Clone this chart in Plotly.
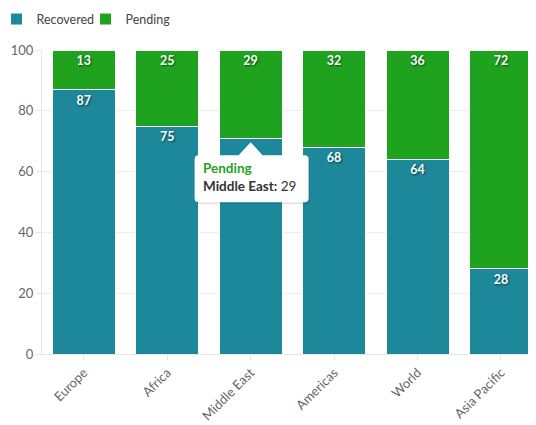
import plotly.graph_objects as go

regions = ["Europe", "Africa", "Middle East", "Americas", "World", "Asia Pacific"]
recovered = [87, 75, 71, 68, 64, 28]
pending = [13, 25, 29, 32, 36, 72]
y_ticks = [0, 20, 40, 60, 80, 100]

teal = "#1c889a"
green = "#1fa31f"
font_family = "Lato, 'Noto Sans', sans-serif"

# the page body adds an 8px margin; compensate so the plot sits where the reference does
W, H, BODY = 536, 425, 8

tip_idx = 2  # point shown with the tooltip (its own label is covered by the tooltip)
rec_text = [("" if i == tip_idx else str(v)) for i, v in enumerate(recovered)]

tfont = dict(color="white", size=12.5, family=font_family, weight="bold",
             shadow="1px 1px 2px rgba(0,0,0,0.55)")

fig = go.Figure()
fig.add_trace(go.Bar(
    x=regions, y=recovered, name="Recovered",
    marker=dict(color=teal, line=dict(color="white", width=1)),
    text=rec_text, textposition="inside", insidetextanchor="end",
    textfont=tfont, textangle=0,
))
fig.add_trace(go.Bar(
    x=regions, y=pending, name="Pending",
    marker=dict(color=green, line=dict(color="white", width=1)),
    text=pending, textposition="inside", insidetextanchor="end",
    textfont=tfont, textangle=0,
))

# Tooltip (static) for Middle East / Pending
tip_y = recovered[tip_idx]
tip_path = ("M -56,-17 L -12,-17 L 0,-4 L 12,-17 L 54,-17 "
            "Q 58,-17 58,-21 L 58,-60 Q 58,-64 54,-64 L -52,-64 "
            "Q -56,-64 -56,-60 L -56,-21 Q -56,-17 -52,-17 Z")
shadow_path = ("M -55,-19 L 55,-19 "
               "Q 59,-19 59,-23 L 59,-62 Q 59,-66 55,-66 L -51,-66 "
               "Q -55,-66 -55,-62 L -55,-23 Q -55,-19 -51,-19 Z")
shapes = [
    dict(type="path", xref="x", yref="y", xsizemode="pixel", ysizemode="pixel",
         xanchor=tip_idx, yanchor=tip_y, path=shadow_path,
         fillcolor="rgba(0,0,0,0.10)", line=dict(width=0), layer="above"),
    dict(type="path", xref="x", yref="y", xsizemode="pixel", ysizemode="pixel",
         xanchor=tip_idx, yanchor=tip_y, path=tip_path,
         fillcolor="white", line=dict(width=0), layer="above"),
]

fig.add_annotation(
    x=regions[tip_idx], y=tip_y, xref="x", yref="y",
    text=(f"<b><span style='color:{green}'>{fig.data[1].name}</span></b><br>"
          f"<b>{regions[tip_idx]}:</b> {pending[tip_idx]}"),
    showarrow=False, xanchor="left", yanchor="top", align="left",
    xshift=-50, yshift=-20,
    font=dict(size=13.5, color="#333", family=font_family),
)

ml, mt = 42 - BODY, 50 - BODY
plot_h = 304
fig.update_layout(
    width=W - BODY, height=H - BODY,
    margin=dict(l=ml, r=0, t=mt, b=(H - BODY) - mt - plot_h, autoexpand=False),
    barmode="stack", bargap=0.245,
    plot_bgcolor="white", paper_bgcolor="white",
    font=dict(family=font_family, color="#666", size=12),
    showlegend=True,
    legend=dict(orientation="h", xref="paper", yref="paper",
                x=-0.092, y=1.15, xanchor="left", yanchor="top",
                font=dict(size=12.5, color="#444"), traceorder="normal",
                itemwidth=30, entrywidth=44, entrywidthmode="pixels",
                tracegroupgap=0, bgcolor="rgba(0,0,0,0)"),
    shapes=shapes,
    hovermode=False,
)
fig.update_xaxes(
    range=[-0.5, 5.42], tickangle=-45, showgrid=False, automargin=False,
    showline=True, linecolor="#e6e6e6", ticks="outside", ticklen=5,
    tickcolor="#e6e6e6", tickfont=dict(size=13, color="#666"),
)
fig.update_yaxes(
    range=[0, 100], tickvals=y_ticks, showgrid=True, gridcolor="#eeeeee",
    automargin=False,
    showline=True, linecolor="#e6e6e6", ticks="outside", ticklen=5,
    tickcolor="#e6e6e6", zeroline=False, tickfont=dict(size=13, color="#666"),
)

fig.write_html("out.html")
